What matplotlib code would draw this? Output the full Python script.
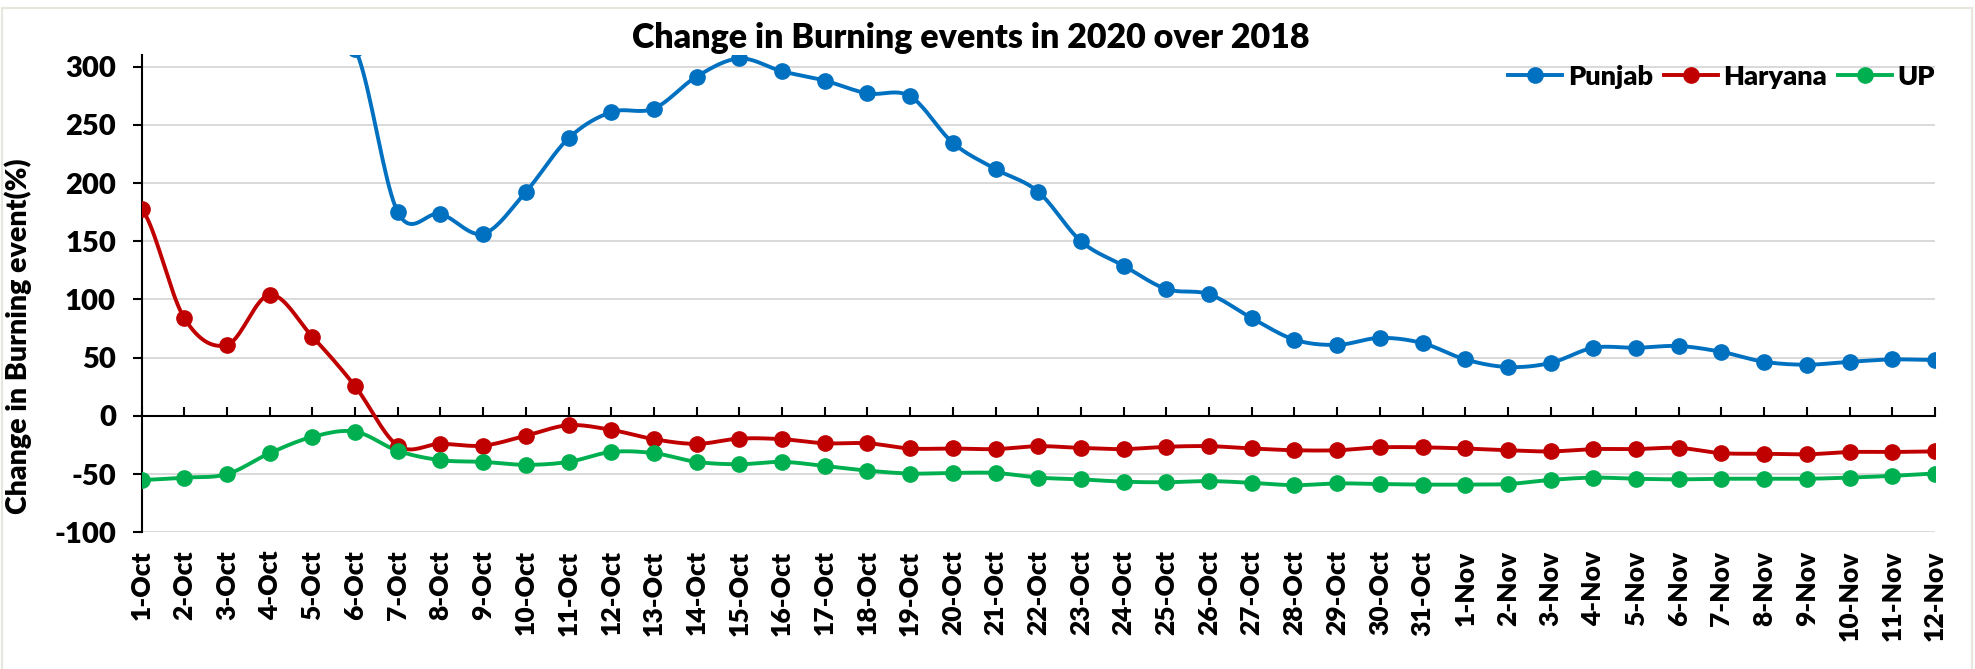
import matplotlib.pyplot as plt
import numpy as np
from matplotlib.lines import Line2D
from matplotlib.patches import Rectangle

plt.rcParams['font.family'] = ['Lato', 'DejaVu Sans']
plt.rcParams['font.weight'] = 'bold'
plt.rcParams['axes.unicode_minus'] = False

dates = [f"{d}-Oct" for d in range(1, 32)] + [f"{d}-Nov" for d in range(1, 13)]

# Punjab has no visible points before 6-Oct (the 6-Oct value is just off the top)
punjab = [None, None, None, None, None, 315,
          175, 173.5, 156.5, 192.5, 238.5, 261, 264, 291.5, 307, 296,
          288, 277, 274.5, 234.5, 212, 192.5, 150, 129, 109, 104.5,
          84, 65.5, 61, 67, 62.5, 48.5, 42, 45.5, 58.5, 58.5,
          60, 55, 46.5, 44, 46.5, 48.5, 48]
haryana = [178, 84, 61, 104, 68, 25.5, -25.5, -24, -25.5, -17, -8, -12,
           -20, -24, -19.5, -20, -23.5, -23.5, -28, -28, -28.5, -26, -27.5,
           -28.5, -26.5, -26, -28, -29.5, -29.5, -27, -27, -28, -29.5, -30.5,
           -28.5, -28.5, -27.5, -32, -32.5, -33, -31, -31, -30.5]
up = [-55, -53, -50, -32, -18, -13.5, -30, -38, -39.5, -42, -39.5, -31,
      -32, -39.5, -41.5, -39.5, -43, -47, -49.5, -49, -49, -53, -54.5, -56.5,
      -57, -56, -57.5, -59.5, -58, -58.5, -59, -59, -58.5, -55, -53, -54,
      -54.5, -54, -54, -54, -53, -51.5, -49.5]

series = [("Punjab", punjab, "#0070C0"),
          ("Haryana", haryana, "#C00000"),
          ("UP", up, "#00B050")]

WT = 'heavy'
LW = 2.8
MS = 11


def smooth(x, y, n=20):
    # Catmull-Rom curve through the points (like Excel's smoothed line)
    xs, ys = [], []
    for i in range(len(x) - 1):
        p0 = y[i - 1] if i > 0 else y[i]
        p1, p2 = y[i], y[i + 1]
        p3 = y[i + 2] if i + 2 < len(y) else y[i + 1]
        t = np.linspace(0, 1, n, endpoint=False)
        m1 = (p2 - p0) / 2
        m2 = (p3 - p1) / 2
        h00 = 2 * t**3 - 3 * t**2 + 1
        h10 = t**3 - 2 * t**2 + t
        h01 = -2 * t**3 + 3 * t**2
        h11 = t**3 - t**2
        xs.extend(x[i] + t * (x[i + 1] - x[i]))
        ys.extend(h00 * p1 + h10 * m1 + h01 * p2 + h11 * m2)
    xs.append(x[-1])
    ys.append(y[-1])
    return np.array(xs), np.array(ys)


fig = plt.figure(figsize=(19.75, 6.69), dpi=100)
ax = fig.add_axes([0.0717, 0.2043, 0.9797 - 0.0717, 0.9178 - 0.2043])

x = np.arange(len(dates))
handles = []
for name, vals, color in series:
    pts = [(i, v) for i, v in enumerate(vals) if v is not None]
    px = np.array([p[0] for p in pts], dtype=float)
    py = np.array([p[1] for p in pts], dtype=float)
    sx, sy = smooth(px, py)
    ax.plot(sx, sy, color=color, lw=LW, zorder=3, solid_capstyle='round')
    ax.plot(px, py, ls='none', marker='o', ms=MS, color=color, zorder=4)
    handles.append(Line2D([], [], color=color, lw=LW, marker='o', ms=MS))

ax.set_xlim(0, len(dates) - 1)
ax.set_ylim(-100, 310)
ax.set_yticks(np.arange(-100, 301, 50))
ax.grid(axis='y', color='#d9d9d9', lw=1.4, zorder=0)
ax.set_axisbelow(True)

for s in ['top', 'right']:
    ax.spines[s].set_visible(False)
ax.spines['left'].set_linewidth(1.5)
ax.spines['bottom'].set_position(('data', 0))
ax.spines['bottom'].set_linewidth(1.5)
ax.spines['bottom'].set_zorder(2)

ax.set_xticks(x)
ax.tick_params(axis='x', direction='in', length=6.5, width=1.5, labelbottom=False)
ax.tick_params(axis='y', direction='out', length=6.5, width=1.5, labelsize=21, pad=12)
for lab in ax.get_yticklabels():
    lab.set_fontweight(WT)

sec = ax.secondary_xaxis(0)
sec.set_xticks(x, dates, rotation=90, fontsize=19, fontweight=WT)
sec.tick_params(length=0, pad=13)
sec.spines['bottom'].set_visible(False)

ax.set_ylabel("Change in Burning event(%)", fontsize=20.5, fontweight=WT)
ax.yaxis.set_label_coords(-0.061, 0.41)

fig.text(971 / 1975, 1 - 38 / 669, "Change in Burning events in 2020 over 2018",
         ha='center', va='center', fontsize=24.5, fontweight=WT)

ax.legend(handles, [s[0] for s in series], ncol=3, frameon=False,
          loc='center right', bbox_to_anchor=(1935 / 1975, 1 - 76.7 / 669),
          bbox_transform=fig.transFigure, borderaxespad=0, borderpad=0,
          handlelength=2.0, handletextpad=0.2, columnspacing=0.4,
          prop={'size': 19.5, 'weight': WT})

fig.patches.append(Rectangle((1.7 / 1975, -0.01), 1970 / 1975, 1 - 8 / 669 + 0.01,
                             transform=fig.transFigure, fill=False,
                             edgecolor='#e6e6dc', lw=1.5))

fig.savefig("out.png", dpi=100)
